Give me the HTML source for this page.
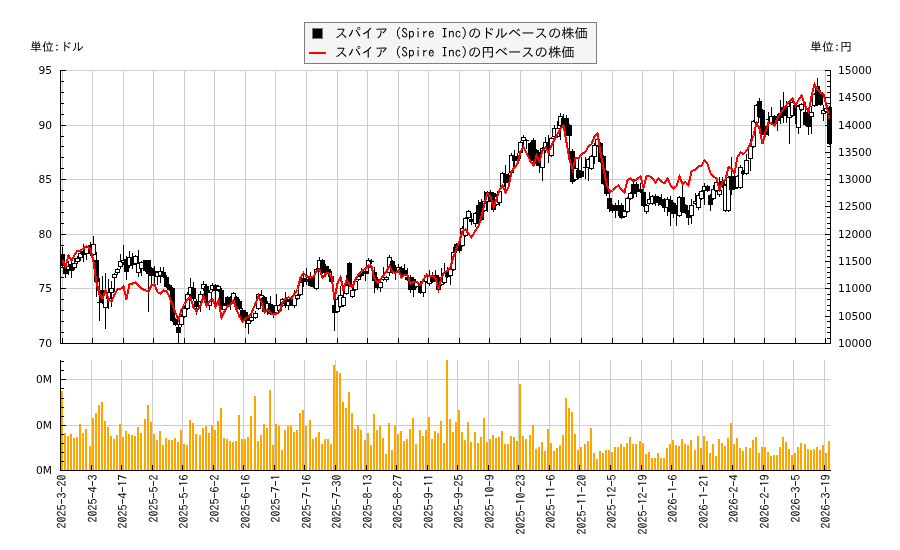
<!DOCTYPE html>
<html lang="ja"><head><meta charset="utf-8"><title>スパイア (Spire Inc) 株価チャート</title>
<style>html,body{margin:0;padding:0;background:#fff;}body{width:900px;height:550px;overflow:hidden;}svg{display:block;will-change:transform;opacity:0.999;}.jp{font-family:"IPAGothic","Liberation Sans","Noto Sans CJK JP",sans-serif;fill:#000;}.num{font-family:"DejaVu Sans","Liberation Sans",sans-serif;font-size:10.67px;fill:#000;}</style></head><body>
<svg width="900" height="550" viewBox="0 0 900 550">
<rect x="0" y="0" width="900" height="550" fill="#ffffff"/>
<g shape-rendering="crispEdges" fill="#cdcdcd">
<rect x="62" y="70" width="1" height="273"/>
<rect x="92" y="70" width="1" height="273"/>
<rect x="123" y="70" width="1" height="273"/>
<rect x="153" y="70" width="1" height="273"/>
<rect x="184" y="70" width="1" height="273"/>
<rect x="214" y="70" width="1" height="273"/>
<rect x="245" y="70" width="1" height="273"/>
<rect x="275" y="70" width="1" height="273"/>
<rect x="306" y="70" width="1" height="273"/>
<rect x="337" y="70" width="1" height="273"/>
<rect x="367" y="70" width="1" height="273"/>
<rect x="398" y="70" width="1" height="273"/>
<rect x="428" y="70" width="1" height="273"/>
<rect x="459" y="70" width="1" height="273"/>
<rect x="489" y="70" width="1" height="273"/>
<rect x="520" y="70" width="1" height="273"/>
<rect x="550" y="70" width="1" height="273"/>
<rect x="581" y="70" width="1" height="273"/>
<rect x="612" y="70" width="1" height="273"/>
<rect x="642" y="70" width="1" height="273"/>
<rect x="673" y="70" width="1" height="273"/>
<rect x="703" y="70" width="1" height="273"/>
<rect x="734" y="70" width="1" height="273"/>
<rect x="764" y="70" width="1" height="273"/>
<rect x="795" y="70" width="1" height="273"/>
<rect x="825" y="70" width="1" height="273"/>
<rect x="61" y="70" width="769" height="1"/>
<rect x="61" y="125" width="769" height="1"/>
<rect x="61" y="179" width="769" height="1"/>
<rect x="61" y="234" width="769" height="1"/>
<rect x="61" y="288" width="769" height="1"/>
</g>
<g shape-rendering="crispEdges" fill="#cdcdcd">
<rect x="91" y="360" width="1" height="110"/>
<rect x="121" y="360" width="1" height="110"/>
<rect x="152" y="360" width="1" height="110"/>
<rect x="182" y="360" width="1" height="110"/>
<rect x="213" y="360" width="1" height="110"/>
<rect x="243" y="360" width="1" height="110"/>
<rect x="274" y="360" width="1" height="110"/>
<rect x="304" y="360" width="1" height="110"/>
<rect x="335" y="360" width="1" height="110"/>
<rect x="366" y="360" width="1" height="110"/>
<rect x="396" y="360" width="1" height="110"/>
<rect x="427" y="360" width="1" height="110"/>
<rect x="457" y="360" width="1" height="110"/>
<rect x="488" y="360" width="1" height="110"/>
<rect x="518" y="360" width="1" height="110"/>
<rect x="549" y="360" width="1" height="110"/>
<rect x="579" y="360" width="1" height="110"/>
<rect x="610" y="360" width="1" height="110"/>
<rect x="641" y="360" width="1" height="110"/>
<rect x="671" y="360" width="1" height="110"/>
<rect x="702" y="360" width="1" height="110"/>
<rect x="732" y="360" width="1" height="110"/>
<rect x="763" y="360" width="1" height="110"/>
<rect x="793" y="360" width="1" height="110"/>
<rect x="824" y="360" width="1" height="110"/>
<rect x="61" y="379" width="769" height="1"/>
<rect x="61" y="425" width="769" height="1"/>
</g>
<g shape-rendering="crispEdges" fill="#ffa500">
<rect x="61" y="391" width="2" height="79"/>
<rect x="64" y="433" width="2" height="37"/>
<rect x="67" y="436" width="2" height="34"/>
<rect x="70" y="434" width="2" height="36"/>
<rect x="73" y="438" width="2" height="32"/>
<rect x="76" y="437" width="2" height="33"/>
<rect x="79" y="424" width="2" height="46"/>
<rect x="82" y="433" width="2" height="37"/>
<rect x="85" y="429" width="2" height="41"/>
<rect x="89" y="446" width="2" height="24"/>
<rect x="92" y="418" width="2" height="52"/>
<rect x="95" y="413" width="2" height="57"/>
<rect x="98" y="405" width="2" height="65"/>
<rect x="101" y="402" width="2" height="68"/>
<rect x="104" y="421" width="2" height="49"/>
<rect x="107" y="427" width="2" height="43"/>
<rect x="110" y="436" width="2" height="34"/>
<rect x="113" y="439" width="2" height="31"/>
<rect x="116" y="435" width="2" height="35"/>
<rect x="119" y="424" width="2" height="46"/>
<rect x="122" y="437" width="2" height="33"/>
<rect x="125" y="431" width="2" height="39"/>
<rect x="128" y="434" width="2" height="36"/>
<rect x="131" y="435" width="2" height="35"/>
<rect x="134" y="436" width="2" height="34"/>
<rect x="137" y="427" width="2" height="43"/>
<rect x="140" y="433" width="2" height="37"/>
<rect x="144" y="419" width="2" height="51"/>
<rect x="147" y="405" width="2" height="65"/>
<rect x="150" y="422" width="2" height="48"/>
<rect x="153" y="434" width="2" height="36"/>
<rect x="156" y="440" width="2" height="30"/>
<rect x="159" y="431" width="2" height="39"/>
<rect x="162" y="445" width="2" height="25"/>
<rect x="165" y="438" width="2" height="32"/>
<rect x="168" y="440" width="2" height="30"/>
<rect x="171" y="440" width="2" height="30"/>
<rect x="174" y="438" width="2" height="32"/>
<rect x="177" y="442" width="2" height="28"/>
<rect x="180" y="430" width="2" height="40"/>
<rect x="183" y="444" width="2" height="26"/>
<rect x="186" y="445" width="2" height="25"/>
<rect x="189" y="420" width="2" height="50"/>
<rect x="192" y="423" width="2" height="47"/>
<rect x="195" y="434" width="2" height="36"/>
<rect x="199" y="435" width="2" height="35"/>
<rect x="202" y="428" width="2" height="42"/>
<rect x="205" y="426" width="2" height="44"/>
<rect x="208" y="433" width="2" height="37"/>
<rect x="211" y="425" width="2" height="45"/>
<rect x="214" y="430" width="2" height="40"/>
<rect x="217" y="421" width="2" height="49"/>
<rect x="220" y="408" width="2" height="62"/>
<rect x="223" y="438" width="2" height="32"/>
<rect x="226" y="439" width="2" height="31"/>
<rect x="229" y="441" width="2" height="29"/>
<rect x="232" y="442" width="2" height="28"/>
<rect x="235" y="441" width="2" height="29"/>
<rect x="238" y="415" width="2" height="55"/>
<rect x="241" y="439" width="2" height="31"/>
<rect x="244" y="439" width="2" height="31"/>
<rect x="247" y="437" width="2" height="33"/>
<rect x="250" y="416" width="2" height="54"/>
<rect x="254" y="396" width="2" height="74"/>
<rect x="257" y="441" width="2" height="29"/>
<rect x="260" y="435" width="2" height="35"/>
<rect x="263" y="424" width="2" height="46"/>
<rect x="266" y="428" width="2" height="42"/>
<rect x="269" y="390" width="2" height="80"/>
<rect x="272" y="445" width="2" height="25"/>
<rect x="275" y="424" width="2" height="46"/>
<rect x="278" y="426" width="2" height="44"/>
<rect x="281" y="450" width="2" height="20"/>
<rect x="284" y="430" width="2" height="40"/>
<rect x="287" y="426" width="2" height="44"/>
<rect x="290" y="426" width="2" height="44"/>
<rect x="293" y="432" width="2" height="38"/>
<rect x="296" y="430" width="2" height="40"/>
<rect x="299" y="413" width="2" height="57"/>
<rect x="302" y="410" width="2" height="60"/>
<rect x="305" y="426" width="2" height="44"/>
<rect x="309" y="420" width="2" height="50"/>
<rect x="312" y="439" width="2" height="31"/>
<rect x="315" y="437" width="2" height="33"/>
<rect x="318" y="432" width="2" height="38"/>
<rect x="321" y="444" width="2" height="26"/>
<rect x="324" y="439" width="2" height="31"/>
<rect x="327" y="439" width="2" height="31"/>
<rect x="330" y="444" width="2" height="26"/>
<rect x="333" y="365" width="2" height="105"/>
<rect x="336" y="371" width="2" height="99"/>
<rect x="339" y="373" width="2" height="97"/>
<rect x="342" y="402" width="2" height="68"/>
<rect x="345" y="408" width="2" height="62"/>
<rect x="348" y="392" width="2" height="78"/>
<rect x="351" y="413" width="2" height="57"/>
<rect x="354" y="429" width="2" height="41"/>
<rect x="357" y="425" width="2" height="45"/>
<rect x="360" y="430" width="2" height="40"/>
<rect x="364" y="440" width="2" height="30"/>
<rect x="367" y="433" width="2" height="37"/>
<rect x="370" y="445" width="2" height="25"/>
<rect x="373" y="414" width="2" height="56"/>
<rect x="376" y="430" width="2" height="40"/>
<rect x="379" y="426" width="2" height="44"/>
<rect x="382" y="438" width="2" height="32"/>
<rect x="385" y="454" width="2" height="16"/>
<rect x="388" y="423" width="2" height="47"/>
<rect x="391" y="450" width="2" height="20"/>
<rect x="394" y="426" width="2" height="44"/>
<rect x="397" y="434" width="2" height="36"/>
<rect x="400" y="431" width="2" height="39"/>
<rect x="403" y="441" width="2" height="29"/>
<rect x="406" y="439" width="2" height="31"/>
<rect x="409" y="429" width="2" height="41"/>
<rect x="412" y="418" width="2" height="52"/>
<rect x="415" y="444" width="2" height="26"/>
<rect x="419" y="430" width="2" height="40"/>
<rect x="422" y="436" width="2" height="34"/>
<rect x="425" y="430" width="2" height="40"/>
<rect x="428" y="417" width="2" height="53"/>
<rect x="431" y="439" width="2" height="31"/>
<rect x="434" y="431" width="2" height="39"/>
<rect x="437" y="433" width="2" height="37"/>
<rect x="440" y="421" width="2" height="49"/>
<rect x="443" y="443" width="2" height="27"/>
<rect x="446" y="360" width="2" height="110"/>
<rect x="449" y="419" width="2" height="51"/>
<rect x="452" y="432" width="2" height="38"/>
<rect x="455" y="422" width="2" height="48"/>
<rect x="458" y="410" width="2" height="60"/>
<rect x="461" y="432" width="2" height="38"/>
<rect x="464" y="440" width="2" height="30"/>
<rect x="467" y="422" width="2" height="48"/>
<rect x="470" y="442" width="2" height="28"/>
<rect x="474" y="432" width="2" height="38"/>
<rect x="477" y="443" width="2" height="27"/>
<rect x="480" y="437" width="2" height="33"/>
<rect x="483" y="418" width="2" height="52"/>
<rect x="486" y="442" width="2" height="28"/>
<rect x="489" y="439" width="2" height="31"/>
<rect x="492" y="435" width="2" height="35"/>
<rect x="495" y="438" width="2" height="32"/>
<rect x="498" y="437" width="2" height="33"/>
<rect x="501" y="431" width="2" height="39"/>
<rect x="504" y="444" width="2" height="26"/>
<rect x="507" y="444" width="2" height="26"/>
<rect x="510" y="436" width="2" height="34"/>
<rect x="513" y="437" width="2" height="33"/>
<rect x="516" y="441" width="2" height="29"/>
<rect x="519" y="384" width="2" height="86"/>
<rect x="522" y="436" width="2" height="34"/>
<rect x="525" y="439" width="2" height="31"/>
<rect x="529" y="435" width="2" height="35"/>
<rect x="532" y="425" width="2" height="45"/>
<rect x="535" y="449" width="2" height="21"/>
<rect x="538" y="447" width="2" height="23"/>
<rect x="541" y="442" width="2" height="28"/>
<rect x="544" y="451" width="2" height="19"/>
<rect x="547" y="429" width="2" height="41"/>
<rect x="550" y="443" width="2" height="27"/>
<rect x="553" y="451" width="2" height="19"/>
<rect x="556" y="448" width="2" height="22"/>
<rect x="559" y="445" width="2" height="25"/>
<rect x="562" y="435" width="2" height="35"/>
<rect x="565" y="398" width="2" height="72"/>
<rect x="568" y="408" width="2" height="62"/>
<rect x="571" y="412" width="2" height="58"/>
<rect x="574" y="434" width="2" height="36"/>
<rect x="577" y="450" width="2" height="20"/>
<rect x="580" y="447" width="2" height="23"/>
<rect x="584" y="444" width="2" height="26"/>
<rect x="587" y="441" width="2" height="29"/>
<rect x="590" y="428" width="2" height="42"/>
<rect x="593" y="453" width="2" height="17"/>
<rect x="596" y="459" width="2" height="11"/>
<rect x="599" y="451" width="2" height="19"/>
<rect x="602" y="453" width="2" height="17"/>
<rect x="605" y="450" width="2" height="20"/>
<rect x="608" y="450" width="2" height="20"/>
<rect x="611" y="452" width="2" height="18"/>
<rect x="614" y="447" width="2" height="23"/>
<rect x="617" y="447" width="2" height="23"/>
<rect x="620" y="444" width="2" height="26"/>
<rect x="623" y="447" width="2" height="23"/>
<rect x="626" y="443" width="2" height="27"/>
<rect x="629" y="437" width="2" height="33"/>
<rect x="632" y="444" width="2" height="26"/>
<rect x="635" y="444" width="2" height="26"/>
<rect x="639" y="441" width="2" height="29"/>
<rect x="642" y="443" width="2" height="27"/>
<rect x="645" y="454" width="2" height="16"/>
<rect x="648" y="452" width="2" height="18"/>
<rect x="651" y="458" width="2" height="12"/>
<rect x="654" y="458" width="2" height="12"/>
<rect x="657" y="453" width="2" height="17"/>
<rect x="660" y="458" width="2" height="12"/>
<rect x="663" y="458" width="2" height="12"/>
<rect x="666" y="448" width="2" height="22"/>
<rect x="669" y="444" width="2" height="26"/>
<rect x="672" y="440" width="2" height="30"/>
<rect x="675" y="445" width="2" height="25"/>
<rect x="678" y="446" width="2" height="24"/>
<rect x="681" y="439" width="2" height="31"/>
<rect x="684" y="444" width="2" height="26"/>
<rect x="687" y="445" width="2" height="25"/>
<rect x="690" y="440" width="2" height="30"/>
<rect x="694" y="450" width="2" height="20"/>
<rect x="697" y="436" width="2" height="34"/>
<rect x="700" y="448" width="2" height="22"/>
<rect x="703" y="436" width="2" height="34"/>
<rect x="706" y="441" width="2" height="29"/>
<rect x="709" y="453" width="2" height="17"/>
<rect x="712" y="444" width="2" height="26"/>
<rect x="715" y="456" width="2" height="14"/>
<rect x="718" y="439" width="2" height="31"/>
<rect x="721" y="443" width="2" height="27"/>
<rect x="724" y="446" width="2" height="24"/>
<rect x="727" y="438" width="2" height="32"/>
<rect x="730" y="423" width="2" height="47"/>
<rect x="733" y="444" width="2" height="26"/>
<rect x="736" y="438" width="2" height="32"/>
<rect x="739" y="448" width="2" height="22"/>
<rect x="742" y="451" width="2" height="19"/>
<rect x="745" y="447" width="2" height="23"/>
<rect x="749" y="448" width="2" height="22"/>
<rect x="752" y="440" width="2" height="30"/>
<rect x="755" y="437" width="2" height="33"/>
<rect x="758" y="453" width="2" height="17"/>
<rect x="761" y="447" width="2" height="23"/>
<rect x="764" y="447" width="2" height="23"/>
<rect x="767" y="452" width="2" height="18"/>
<rect x="770" y="456" width="2" height="14"/>
<rect x="773" y="455" width="2" height="15"/>
<rect x="776" y="455" width="2" height="15"/>
<rect x="779" y="447" width="2" height="23"/>
<rect x="782" y="437" width="2" height="33"/>
<rect x="785" y="442" width="2" height="28"/>
<rect x="788" y="449" width="2" height="21"/>
<rect x="791" y="455" width="2" height="15"/>
<rect x="794" y="453" width="2" height="17"/>
<rect x="797" y="447" width="2" height="23"/>
<rect x="800" y="443" width="2" height="27"/>
<rect x="804" y="444" width="2" height="26"/>
<rect x="807" y="449" width="2" height="21"/>
<rect x="810" y="450" width="2" height="20"/>
<rect x="813" y="449" width="2" height="21"/>
<rect x="816" y="447" width="2" height="23"/>
<rect x="819" y="450" width="2" height="20"/>
<rect x="822" y="445" width="2" height="25"/>
<rect x="825" y="453" width="2" height="17"/>
<rect x="828" y="441" width="2" height="29"/>
</g>
<g shape-rendering="crispEdges">
<rect x="60" y="254" width="5" height="12" fill="#000"/>
<rect x="62" y="247" width="1" height="7" fill="#000"/>
<rect x="62" y="266" width="1" height="1" fill="#000"/>
<rect x="63" y="267" width="5" height="7" fill="#000"/>
<rect x="65" y="263" width="1" height="4" fill="#000"/>
<rect x="65" y="274" width="1" height="4" fill="#000"/>
<rect x="66" y="266" width="5" height="4" fill="#000"/>
<rect x="67" y="267" width="3" height="2" fill="#fff"/>
<rect x="68" y="261" width="1" height="5" fill="#000"/>
<rect x="68" y="270" width="1" height="5" fill="#000"/>
<rect x="69" y="264" width="5" height="7" fill="#000"/>
<rect x="71" y="262" width="1" height="2" fill="#000"/>
<rect x="71" y="271" width="1" height="7" fill="#000"/>
<rect x="72" y="263" width="5" height="5" fill="#000"/>
<rect x="73" y="264" width="3" height="3" fill="#fff"/>
<rect x="74" y="258" width="1" height="5" fill="#000"/>
<rect x="74" y="268" width="1" height="2" fill="#000"/>
<rect x="75" y="258" width="5" height="4" fill="#000"/>
<rect x="76" y="259" width="3" height="2" fill="#fff"/>
<rect x="77" y="256" width="1" height="2" fill="#000"/>
<rect x="77" y="262" width="1" height="2" fill="#000"/>
<rect x="78" y="253" width="5" height="5" fill="#000"/>
<rect x="79" y="254" width="3" height="3" fill="#fff"/>
<rect x="80" y="250" width="1" height="3" fill="#000"/>
<rect x="80" y="258" width="1" height="3" fill="#000"/>
<rect x="81" y="251" width="5" height="4" fill="#000"/>
<rect x="83" y="244" width="1" height="7" fill="#000"/>
<rect x="83" y="255" width="1" height="7" fill="#000"/>
<rect x="84" y="247" width="5" height="7" fill="#000"/>
<rect x="85" y="248" width="3" height="5" fill="#fff"/>
<rect x="86" y="245" width="1" height="2" fill="#000"/>
<rect x="86" y="254" width="1" height="6" fill="#000"/>
<rect x="88" y="245" width="5" height="9" fill="#000"/>
<rect x="90" y="242" width="1" height="3" fill="#000"/>
<rect x="90" y="254" width="1" height="2" fill="#000"/>
<rect x="91" y="244" width="5" height="11" fill="#000"/>
<rect x="92" y="245" width="3" height="9" fill="#fff"/>
<rect x="93" y="236" width="1" height="8" fill="#000"/>
<rect x="93" y="255" width="1" height="1" fill="#000"/>
<rect x="94" y="260" width="5" height="22" fill="#000"/>
<rect x="96" y="252" width="1" height="8" fill="#000"/>
<rect x="96" y="282" width="1" height="15" fill="#000"/>
<rect x="97" y="302" width="5" height="1" fill="#000"/>
<rect x="99" y="278" width="1" height="24" fill="#000"/>
<rect x="99" y="303" width="1" height="18" fill="#000"/>
<rect x="100" y="290" width="5" height="13" fill="#000"/>
<rect x="102" y="276" width="1" height="14" fill="#000"/>
<rect x="102" y="303" width="1" height="1" fill="#000"/>
<rect x="103" y="293" width="5" height="15" fill="#000"/>
<rect x="104" y="294" width="3" height="13" fill="#fff"/>
<rect x="105" y="273" width="1" height="20" fill="#000"/>
<rect x="105" y="308" width="1" height="21" fill="#000"/>
<rect x="106" y="292" width="5" height="7" fill="#000"/>
<rect x="107" y="293" width="3" height="5" fill="#fff"/>
<rect x="108" y="279" width="1" height="13" fill="#000"/>
<rect x="108" y="299" width="1" height="10" fill="#000"/>
<rect x="109" y="288" width="5" height="5" fill="#000"/>
<rect x="110" y="289" width="3" height="3" fill="#fff"/>
<rect x="111" y="281" width="1" height="7" fill="#000"/>
<rect x="111" y="293" width="1" height="14" fill="#000"/>
<rect x="112" y="274" width="5" height="4" fill="#000"/>
<rect x="113" y="275" width="3" height="2" fill="#fff"/>
<rect x="114" y="273" width="1" height="1" fill="#000"/>
<rect x="114" y="278" width="1" height="14" fill="#000"/>
<rect x="115" y="269" width="5" height="4" fill="#000"/>
<rect x="116" y="270" width="3" height="2" fill="#fff"/>
<rect x="117" y="268" width="1" height="1" fill="#000"/>
<rect x="117" y="273" width="1" height="2" fill="#000"/>
<rect x="118" y="261" width="5" height="6" fill="#000"/>
<rect x="119" y="262" width="3" height="4" fill="#fff"/>
<rect x="120" y="254" width="1" height="7" fill="#000"/>
<rect x="120" y="267" width="1" height="2" fill="#000"/>
<rect x="121" y="260" width="5" height="3" fill="#000"/>
<rect x="122" y="261" width="3" height="1" fill="#fff"/>
<rect x="123" y="245" width="1" height="15" fill="#000"/>
<rect x="123" y="263" width="1" height="2" fill="#000"/>
<rect x="124" y="259" width="5" height="13" fill="#000"/>
<rect x="126" y="256" width="1" height="3" fill="#000"/>
<rect x="126" y="272" width="1" height="8" fill="#000"/>
<rect x="127" y="257" width="5" height="9" fill="#000"/>
<rect x="128" y="258" width="3" height="7" fill="#fff"/>
<rect x="129" y="251" width="1" height="6" fill="#000"/>
<rect x="129" y="266" width="1" height="2" fill="#000"/>
<rect x="130" y="258" width="5" height="7" fill="#000"/>
<rect x="132" y="253" width="1" height="5" fill="#000"/>
<rect x="132" y="265" width="1" height="4" fill="#000"/>
<rect x="133" y="256" width="5" height="8" fill="#000"/>
<rect x="134" y="257" width="3" height="6" fill="#fff"/>
<rect x="135" y="255" width="1" height="1" fill="#000"/>
<rect x="135" y="264" width="1" height="1" fill="#000"/>
<rect x="136" y="263" width="5" height="10" fill="#000"/>
<rect x="137" y="264" width="3" height="8" fill="#fff"/>
<rect x="138" y="250" width="1" height="13" fill="#000"/>
<rect x="138" y="273" width="1" height="4" fill="#000"/>
<rect x="139" y="262" width="5" height="7" fill="#000"/>
<rect x="140" y="263" width="3" height="5" fill="#fff"/>
<rect x="141" y="261" width="1" height="1" fill="#000"/>
<rect x="141" y="269" width="1" height="7" fill="#000"/>
<rect x="143" y="260" width="5" height="11" fill="#000"/>
<rect x="145" y="271" width="1" height="1" fill="#000"/>
<rect x="146" y="260" width="5" height="14" fill="#000"/>
<rect x="148" y="274" width="1" height="38" fill="#000"/>
<rect x="149" y="268" width="5" height="8" fill="#000"/>
<rect x="151" y="267" width="1" height="1" fill="#000"/>
<rect x="151" y="276" width="1" height="8" fill="#000"/>
<rect x="152" y="271" width="5" height="4" fill="#000"/>
<rect x="154" y="266" width="1" height="5" fill="#000"/>
<rect x="154" y="275" width="1" height="9" fill="#000"/>
<rect x="155" y="272" width="5" height="5" fill="#000"/>
<rect x="156" y="273" width="3" height="3" fill="#fff"/>
<rect x="157" y="271" width="1" height="1" fill="#000"/>
<rect x="157" y="277" width="1" height="8" fill="#000"/>
<rect x="158" y="271" width="5" height="5" fill="#000"/>
<rect x="159" y="272" width="3" height="3" fill="#fff"/>
<rect x="160" y="267" width="1" height="4" fill="#000"/>
<rect x="160" y="276" width="1" height="7" fill="#000"/>
<rect x="161" y="272" width="5" height="5" fill="#000"/>
<rect x="163" y="267" width="1" height="5" fill="#000"/>
<rect x="163" y="277" width="1" height="1" fill="#000"/>
<rect x="164" y="277" width="5" height="10" fill="#000"/>
<rect x="166" y="275" width="1" height="2" fill="#000"/>
<rect x="166" y="287" width="1" height="1" fill="#000"/>
<rect x="167" y="285" width="5" height="5" fill="#000"/>
<rect x="169" y="284" width="1" height="1" fill="#000"/>
<rect x="169" y="290" width="1" height="1" fill="#000"/>
<rect x="170" y="288" width="5" height="33" fill="#000"/>
<rect x="172" y="287" width="1" height="1" fill="#000"/>
<rect x="172" y="321" width="1" height="1" fill="#000"/>
<rect x="173" y="319" width="5" height="6" fill="#000"/>
<rect x="175" y="318" width="1" height="1" fill="#000"/>
<rect x="175" y="325" width="1" height="1" fill="#000"/>
<rect x="176" y="327" width="5" height="6" fill="#000"/>
<rect x="178" y="324" width="1" height="3" fill="#000"/>
<rect x="178" y="333" width="1" height="11" fill="#000"/>
<rect x="179" y="316" width="5" height="9" fill="#000"/>
<rect x="180" y="317" width="3" height="7" fill="#fff"/>
<rect x="181" y="314" width="1" height="2" fill="#000"/>
<rect x="181" y="325" width="1" height="2" fill="#000"/>
<rect x="182" y="308" width="5" height="9" fill="#000"/>
<rect x="183" y="309" width="3" height="7" fill="#fff"/>
<rect x="184" y="306" width="1" height="2" fill="#000"/>
<rect x="184" y="317" width="1" height="1" fill="#000"/>
<rect x="185" y="294" width="5" height="15" fill="#000"/>
<rect x="186" y="295" width="3" height="13" fill="#fff"/>
<rect x="187" y="292" width="1" height="2" fill="#000"/>
<rect x="187" y="309" width="1" height="1" fill="#000"/>
<rect x="188" y="287" width="5" height="8" fill="#000"/>
<rect x="189" y="288" width="3" height="6" fill="#fff"/>
<rect x="190" y="278" width="1" height="9" fill="#000"/>
<rect x="190" y="295" width="1" height="2" fill="#000"/>
<rect x="191" y="288" width="5" height="11" fill="#000"/>
<rect x="193" y="282" width="1" height="6" fill="#000"/>
<rect x="193" y="299" width="1" height="2" fill="#000"/>
<rect x="194" y="301" width="5" height="6" fill="#000"/>
<rect x="196" y="299" width="1" height="2" fill="#000"/>
<rect x="196" y="307" width="1" height="8" fill="#000"/>
<rect x="198" y="294" width="5" height="8" fill="#000"/>
<rect x="199" y="295" width="3" height="6" fill="#fff"/>
<rect x="200" y="291" width="1" height="3" fill="#000"/>
<rect x="200" y="302" width="1" height="10" fill="#000"/>
<rect x="201" y="284" width="5" height="5" fill="#000"/>
<rect x="202" y="285" width="3" height="3" fill="#fff"/>
<rect x="203" y="281" width="1" height="3" fill="#000"/>
<rect x="203" y="289" width="1" height="2" fill="#000"/>
<rect x="204" y="286" width="5" height="15" fill="#000"/>
<rect x="206" y="284" width="1" height="2" fill="#000"/>
<rect x="206" y="301" width="1" height="2" fill="#000"/>
<rect x="207" y="292" width="5" height="14" fill="#000"/>
<rect x="208" y="293" width="3" height="12" fill="#fff"/>
<rect x="209" y="290" width="1" height="2" fill="#000"/>
<rect x="209" y="306" width="1" height="4" fill="#000"/>
<rect x="210" y="285" width="5" height="5" fill="#000"/>
<rect x="211" y="286" width="3" height="3" fill="#fff"/>
<rect x="212" y="283" width="1" height="2" fill="#000"/>
<rect x="212" y="290" width="1" height="2" fill="#000"/>
<rect x="213" y="285" width="5" height="6" fill="#000"/>
<rect x="215" y="284" width="1" height="1" fill="#000"/>
<rect x="215" y="291" width="1" height="15" fill="#000"/>
<rect x="216" y="286" width="5" height="4" fill="#000"/>
<rect x="217" y="287" width="3" height="2" fill="#fff"/>
<rect x="218" y="285" width="1" height="1" fill="#000"/>
<rect x="218" y="290" width="1" height="2" fill="#000"/>
<rect x="219" y="290" width="5" height="19" fill="#000"/>
<rect x="221" y="288" width="1" height="2" fill="#000"/>
<rect x="221" y="309" width="1" height="1" fill="#000"/>
<rect x="222" y="305" width="5" height="5" fill="#000"/>
<rect x="223" y="306" width="3" height="3" fill="#fff"/>
<rect x="224" y="303" width="1" height="2" fill="#000"/>
<rect x="224" y="310" width="1" height="1" fill="#000"/>
<rect x="225" y="297" width="5" height="9" fill="#000"/>
<rect x="227" y="296" width="1" height="1" fill="#000"/>
<rect x="227" y="306" width="1" height="1" fill="#000"/>
<rect x="228" y="298" width="5" height="6" fill="#000"/>
<rect x="230" y="296" width="1" height="2" fill="#000"/>
<rect x="230" y="304" width="1" height="6" fill="#000"/>
<rect x="231" y="293" width="5" height="8" fill="#000"/>
<rect x="232" y="294" width="3" height="6" fill="#fff"/>
<rect x="233" y="292" width="1" height="1" fill="#000"/>
<rect x="233" y="301" width="1" height="1" fill="#000"/>
<rect x="234" y="297" width="5" height="10" fill="#000"/>
<rect x="236" y="296" width="1" height="1" fill="#000"/>
<rect x="236" y="307" width="1" height="3" fill="#000"/>
<rect x="237" y="301" width="5" height="8" fill="#000"/>
<rect x="239" y="299" width="1" height="2" fill="#000"/>
<rect x="239" y="309" width="1" height="1" fill="#000"/>
<rect x="240" y="310" width="5" height="9" fill="#000"/>
<rect x="242" y="308" width="1" height="2" fill="#000"/>
<rect x="242" y="319" width="1" height="1" fill="#000"/>
<rect x="243" y="312" width="5" height="8" fill="#000"/>
<rect x="245" y="310" width="1" height="2" fill="#000"/>
<rect x="245" y="320" width="1" height="8" fill="#000"/>
<rect x="246" y="320" width="5" height="4" fill="#000"/>
<rect x="247" y="321" width="3" height="2" fill="#fff"/>
<rect x="248" y="318" width="1" height="2" fill="#000"/>
<rect x="248" y="324" width="1" height="10" fill="#000"/>
<rect x="249" y="317" width="5" height="4" fill="#000"/>
<rect x="250" y="318" width="3" height="2" fill="#fff"/>
<rect x="251" y="314" width="1" height="3" fill="#000"/>
<rect x="251" y="321" width="1" height="1" fill="#000"/>
<rect x="253" y="313" width="5" height="5" fill="#000"/>
<rect x="254" y="314" width="3" height="3" fill="#fff"/>
<rect x="255" y="311" width="1" height="2" fill="#000"/>
<rect x="255" y="318" width="1" height="1" fill="#000"/>
<rect x="256" y="294" width="5" height="15" fill="#000"/>
<rect x="257" y="295" width="3" height="13" fill="#fff"/>
<rect x="258" y="293" width="1" height="1" fill="#000"/>
<rect x="258" y="309" width="1" height="1" fill="#000"/>
<rect x="259" y="295" width="5" height="4" fill="#000"/>
<rect x="260" y="296" width="3" height="2" fill="#fff"/>
<rect x="261" y="290" width="1" height="5" fill="#000"/>
<rect x="261" y="299" width="1" height="1" fill="#000"/>
<rect x="262" y="297" width="5" height="15" fill="#000"/>
<rect x="264" y="296" width="1" height="1" fill="#000"/>
<rect x="264" y="312" width="1" height="1" fill="#000"/>
<rect x="265" y="303" width="5" height="7" fill="#000"/>
<rect x="266" y="304" width="3" height="5" fill="#fff"/>
<rect x="267" y="301" width="1" height="2" fill="#000"/>
<rect x="267" y="310" width="1" height="5" fill="#000"/>
<rect x="268" y="304" width="5" height="10" fill="#000"/>
<rect x="270" y="296" width="1" height="8" fill="#000"/>
<rect x="270" y="314" width="1" height="1" fill="#000"/>
<rect x="271" y="306" width="5" height="8" fill="#000"/>
<rect x="273" y="305" width="1" height="1" fill="#000"/>
<rect x="273" y="314" width="1" height="4" fill="#000"/>
<rect x="274" y="305" width="5" height="8" fill="#000"/>
<rect x="275" y="306" width="3" height="6" fill="#fff"/>
<rect x="276" y="294" width="1" height="11" fill="#000"/>
<rect x="276" y="313" width="1" height="1" fill="#000"/>
<rect x="277" y="305" width="5" height="6" fill="#000"/>
<rect x="278" y="306" width="3" height="4" fill="#fff"/>
<rect x="279" y="304" width="1" height="1" fill="#000"/>
<rect x="279" y="311" width="1" height="1" fill="#000"/>
<rect x="280" y="299" width="5" height="7" fill="#000"/>
<rect x="281" y="300" width="3" height="5" fill="#fff"/>
<rect x="282" y="298" width="1" height="1" fill="#000"/>
<rect x="282" y="306" width="1" height="1" fill="#000"/>
<rect x="283" y="299" width="5" height="5" fill="#000"/>
<rect x="285" y="292" width="1" height="7" fill="#000"/>
<rect x="285" y="304" width="1" height="4" fill="#000"/>
<rect x="286" y="301" width="5" height="5" fill="#000"/>
<rect x="287" y="302" width="3" height="3" fill="#fff"/>
<rect x="288" y="299" width="1" height="2" fill="#000"/>
<rect x="288" y="306" width="1" height="4" fill="#000"/>
<rect x="289" y="297" width="5" height="8" fill="#000"/>
<rect x="291" y="296" width="1" height="1" fill="#000"/>
<rect x="291" y="305" width="1" height="1" fill="#000"/>
<rect x="292" y="295" width="5" height="11" fill="#000"/>
<rect x="293" y="296" width="3" height="9" fill="#fff"/>
<rect x="294" y="290" width="1" height="5" fill="#000"/>
<rect x="294" y="306" width="1" height="2" fill="#000"/>
<rect x="295" y="295" width="5" height="4" fill="#000"/>
<rect x="296" y="296" width="3" height="2" fill="#fff"/>
<rect x="297" y="294" width="1" height="1" fill="#000"/>
<rect x="297" y="299" width="1" height="1" fill="#000"/>
<rect x="298" y="282" width="5" height="13" fill="#000"/>
<rect x="299" y="283" width="3" height="11" fill="#fff"/>
<rect x="300" y="280" width="1" height="2" fill="#000"/>
<rect x="300" y="295" width="1" height="1" fill="#000"/>
<rect x="301" y="278" width="5" height="4" fill="#000"/>
<rect x="303" y="272" width="1" height="6" fill="#000"/>
<rect x="303" y="282" width="1" height="5" fill="#000"/>
<rect x="304" y="279" width="5" height="3" fill="#000"/>
<rect x="306" y="268" width="1" height="11" fill="#000"/>
<rect x="306" y="282" width="1" height="3" fill="#000"/>
<rect x="308" y="278" width="5" height="8" fill="#000"/>
<rect x="310" y="272" width="1" height="6" fill="#000"/>
<rect x="310" y="286" width="1" height="1" fill="#000"/>
<rect x="311" y="279" width="5" height="8" fill="#000"/>
<rect x="313" y="278" width="1" height="1" fill="#000"/>
<rect x="313" y="287" width="1" height="1" fill="#000"/>
<rect x="314" y="269" width="5" height="20" fill="#000"/>
<rect x="315" y="270" width="3" height="18" fill="#fff"/>
<rect x="316" y="268" width="1" height="1" fill="#000"/>
<rect x="316" y="289" width="1" height="1" fill="#000"/>
<rect x="317" y="260" width="5" height="9" fill="#000"/>
<rect x="318" y="261" width="3" height="7" fill="#fff"/>
<rect x="319" y="257" width="1" height="3" fill="#000"/>
<rect x="319" y="269" width="1" height="1" fill="#000"/>
<rect x="320" y="260" width="5" height="13" fill="#000"/>
<rect x="322" y="259" width="1" height="1" fill="#000"/>
<rect x="322" y="273" width="1" height="1" fill="#000"/>
<rect x="323" y="266" width="5" height="7" fill="#000"/>
<rect x="325" y="264" width="1" height="2" fill="#000"/>
<rect x="325" y="273" width="1" height="4" fill="#000"/>
<rect x="326" y="269" width="5" height="4" fill="#000"/>
<rect x="328" y="266" width="1" height="3" fill="#000"/>
<rect x="328" y="273" width="1" height="4" fill="#000"/>
<rect x="329" y="276" width="5" height="6" fill="#000"/>
<rect x="331" y="271" width="1" height="5" fill="#000"/>
<rect x="331" y="282" width="1" height="1" fill="#000"/>
<rect x="332" y="305" width="5" height="8" fill="#000"/>
<rect x="334" y="300" width="1" height="5" fill="#000"/>
<rect x="334" y="313" width="1" height="18" fill="#000"/>
<rect x="335" y="299" width="5" height="13" fill="#000"/>
<rect x="336" y="300" width="3" height="11" fill="#fff"/>
<rect x="337" y="297" width="1" height="2" fill="#000"/>
<rect x="337" y="312" width="1" height="1" fill="#000"/>
<rect x="338" y="295" width="5" height="12" fill="#000"/>
<rect x="339" y="296" width="3" height="10" fill="#fff"/>
<rect x="340" y="286" width="1" height="9" fill="#000"/>
<rect x="340" y="307" width="1" height="1" fill="#000"/>
<rect x="341" y="297" width="5" height="9" fill="#000"/>
<rect x="342" y="298" width="3" height="7" fill="#fff"/>
<rect x="343" y="285" width="1" height="12" fill="#000"/>
<rect x="343" y="306" width="1" height="1" fill="#000"/>
<rect x="344" y="285" width="5" height="9" fill="#000"/>
<rect x="345" y="286" width="3" height="7" fill="#fff"/>
<rect x="346" y="275" width="1" height="10" fill="#000"/>
<rect x="346" y="294" width="1" height="1" fill="#000"/>
<rect x="347" y="263" width="5" height="23" fill="#000"/>
<rect x="349" y="262" width="1" height="1" fill="#000"/>
<rect x="349" y="286" width="1" height="1" fill="#000"/>
<rect x="350" y="290" width="5" height="7" fill="#000"/>
<rect x="351" y="291" width="3" height="5" fill="#fff"/>
<rect x="352" y="288" width="1" height="2" fill="#000"/>
<rect x="352" y="297" width="1" height="1" fill="#000"/>
<rect x="353" y="281" width="5" height="9" fill="#000"/>
<rect x="354" y="282" width="3" height="7" fill="#fff"/>
<rect x="355" y="280" width="1" height="1" fill="#000"/>
<rect x="355" y="290" width="1" height="1" fill="#000"/>
<rect x="356" y="276" width="5" height="4" fill="#000"/>
<rect x="357" y="277" width="3" height="2" fill="#fff"/>
<rect x="358" y="274" width="1" height="2" fill="#000"/>
<rect x="358" y="280" width="1" height="1" fill="#000"/>
<rect x="359" y="272" width="5" height="4" fill="#000"/>
<rect x="361" y="268" width="1" height="4" fill="#000"/>
<rect x="361" y="276" width="1" height="1" fill="#000"/>
<rect x="363" y="271" width="5" height="3" fill="#000"/>
<rect x="365" y="267" width="1" height="4" fill="#000"/>
<rect x="365" y="274" width="1" height="7" fill="#000"/>
<rect x="366" y="260" width="5" height="8" fill="#000"/>
<rect x="367" y="261" width="3" height="6" fill="#fff"/>
<rect x="368" y="258" width="1" height="2" fill="#000"/>
<rect x="368" y="268" width="1" height="6" fill="#000"/>
<rect x="369" y="261" width="5" height="1" fill="#000"/>
<rect x="371" y="259" width="1" height="2" fill="#000"/>
<rect x="371" y="262" width="1" height="2" fill="#000"/>
<rect x="372" y="272" width="5" height="9" fill="#000"/>
<rect x="374" y="267" width="1" height="5" fill="#000"/>
<rect x="374" y="281" width="1" height="12" fill="#000"/>
<rect x="375" y="279" width="5" height="9" fill="#000"/>
<rect x="377" y="277" width="1" height="2" fill="#000"/>
<rect x="377" y="288" width="1" height="2" fill="#000"/>
<rect x="378" y="282" width="5" height="6" fill="#000"/>
<rect x="379" y="283" width="3" height="4" fill="#fff"/>
<rect x="380" y="281" width="1" height="1" fill="#000"/>
<rect x="380" y="288" width="1" height="4" fill="#000"/>
<rect x="381" y="277" width="5" height="3" fill="#000"/>
<rect x="382" y="278" width="3" height="1" fill="#fff"/>
<rect x="383" y="267" width="1" height="10" fill="#000"/>
<rect x="383" y="280" width="1" height="1" fill="#000"/>
<rect x="384" y="277" width="5" height="3" fill="#000"/>
<rect x="385" y="278" width="3" height="1" fill="#fff"/>
<rect x="386" y="276" width="1" height="1" fill="#000"/>
<rect x="386" y="280" width="1" height="2" fill="#000"/>
<rect x="387" y="257" width="5" height="16" fill="#000"/>
<rect x="388" y="258" width="3" height="14" fill="#fff"/>
<rect x="389" y="255" width="1" height="2" fill="#000"/>
<rect x="389" y="273" width="1" height="3" fill="#000"/>
<rect x="390" y="261" width="5" height="12" fill="#000"/>
<rect x="392" y="260" width="1" height="1" fill="#000"/>
<rect x="392" y="273" width="1" height="1" fill="#000"/>
<rect x="393" y="268" width="5" height="5" fill="#000"/>
<rect x="395" y="265" width="1" height="3" fill="#000"/>
<rect x="395" y="273" width="1" height="7" fill="#000"/>
<rect x="396" y="267" width="5" height="4" fill="#000"/>
<rect x="397" y="268" width="3" height="2" fill="#fff"/>
<rect x="398" y="264" width="1" height="3" fill="#000"/>
<rect x="398" y="271" width="1" height="1" fill="#000"/>
<rect x="399" y="268" width="5" height="7" fill="#000"/>
<rect x="401" y="266" width="1" height="2" fill="#000"/>
<rect x="401" y="275" width="1" height="1" fill="#000"/>
<rect x="402" y="270" width="5" height="4" fill="#000"/>
<rect x="404" y="264" width="1" height="6" fill="#000"/>
<rect x="404" y="274" width="1" height="1" fill="#000"/>
<rect x="405" y="277" width="5" height="3" fill="#000"/>
<rect x="407" y="268" width="1" height="9" fill="#000"/>
<rect x="407" y="280" width="1" height="1" fill="#000"/>
<rect x="408" y="277" width="5" height="13" fill="#000"/>
<rect x="410" y="275" width="1" height="2" fill="#000"/>
<rect x="410" y="290" width="1" height="3" fill="#000"/>
<rect x="411" y="279" width="5" height="11" fill="#000"/>
<rect x="413" y="277" width="1" height="2" fill="#000"/>
<rect x="413" y="290" width="1" height="7" fill="#000"/>
<rect x="414" y="282" width="5" height="5" fill="#000"/>
<rect x="415" y="283" width="3" height="3" fill="#fff"/>
<rect x="416" y="281" width="1" height="1" fill="#000"/>
<rect x="416" y="287" width="1" height="1" fill="#000"/>
<rect x="418" y="283" width="5" height="10" fill="#000"/>
<rect x="420" y="281" width="1" height="2" fill="#000"/>
<rect x="420" y="293" width="1" height="1" fill="#000"/>
<rect x="421" y="281" width="5" height="12" fill="#000"/>
<rect x="422" y="282" width="3" height="10" fill="#fff"/>
<rect x="423" y="279" width="1" height="2" fill="#000"/>
<rect x="423" y="293" width="1" height="4" fill="#000"/>
<rect x="424" y="275" width="5" height="7" fill="#000"/>
<rect x="425" y="276" width="3" height="5" fill="#fff"/>
<rect x="426" y="273" width="1" height="2" fill="#000"/>
<rect x="426" y="282" width="1" height="1" fill="#000"/>
<rect x="427" y="276" width="5" height="8" fill="#000"/>
<rect x="428" y="277" width="3" height="6" fill="#fff"/>
<rect x="429" y="270" width="1" height="6" fill="#000"/>
<rect x="429" y="284" width="1" height="2" fill="#000"/>
<rect x="430" y="276" width="5" height="6" fill="#000"/>
<rect x="432" y="272" width="1" height="4" fill="#000"/>
<rect x="432" y="282" width="1" height="1" fill="#000"/>
<rect x="433" y="275" width="5" height="2" fill="#000"/>
<rect x="435" y="270" width="1" height="5" fill="#000"/>
<rect x="435" y="277" width="1" height="4" fill="#000"/>
<rect x="436" y="277" width="5" height="13" fill="#000"/>
<rect x="438" y="275" width="1" height="2" fill="#000"/>
<rect x="438" y="290" width="1" height="2" fill="#000"/>
<rect x="439" y="278" width="5" height="7" fill="#000"/>
<rect x="440" y="279" width="3" height="5" fill="#fff"/>
<rect x="441" y="268" width="1" height="10" fill="#000"/>
<rect x="441" y="285" width="1" height="1" fill="#000"/>
<rect x="442" y="273" width="5" height="10" fill="#000"/>
<rect x="443" y="274" width="3" height="8" fill="#fff"/>
<rect x="444" y="263" width="1" height="10" fill="#000"/>
<rect x="444" y="283" width="1" height="1" fill="#000"/>
<rect x="445" y="271" width="5" height="6" fill="#000"/>
<rect x="447" y="267" width="1" height="4" fill="#000"/>
<rect x="447" y="277" width="1" height="1" fill="#000"/>
<rect x="448" y="269" width="5" height="7" fill="#000"/>
<rect x="449" y="270" width="3" height="5" fill="#fff"/>
<rect x="450" y="267" width="1" height="2" fill="#000"/>
<rect x="450" y="276" width="1" height="9" fill="#000"/>
<rect x="451" y="252" width="5" height="18" fill="#000"/>
<rect x="452" y="253" width="3" height="16" fill="#fff"/>
<rect x="453" y="247" width="1" height="5" fill="#000"/>
<rect x="453" y="270" width="1" height="1" fill="#000"/>
<rect x="454" y="244" width="5" height="7" fill="#000"/>
<rect x="456" y="243" width="1" height="1" fill="#000"/>
<rect x="456" y="251" width="1" height="2" fill="#000"/>
<rect x="457" y="246" width="5" height="5" fill="#000"/>
<rect x="459" y="244" width="1" height="2" fill="#000"/>
<rect x="459" y="251" width="1" height="2" fill="#000"/>
<rect x="460" y="228" width="5" height="18" fill="#000"/>
<rect x="461" y="229" width="3" height="16" fill="#fff"/>
<rect x="462" y="226" width="1" height="2" fill="#000"/>
<rect x="462" y="246" width="1" height="1" fill="#000"/>
<rect x="463" y="218" width="5" height="18" fill="#000"/>
<rect x="464" y="219" width="3" height="16" fill="#fff"/>
<rect x="465" y="217" width="1" height="1" fill="#000"/>
<rect x="465" y="236" width="1" height="1" fill="#000"/>
<rect x="466" y="211" width="5" height="7" fill="#000"/>
<rect x="467" y="212" width="3" height="5" fill="#fff"/>
<rect x="468" y="210" width="1" height="1" fill="#000"/>
<rect x="468" y="218" width="1" height="1" fill="#000"/>
<rect x="469" y="219" width="5" height="3" fill="#000"/>
<rect x="471" y="213" width="1" height="6" fill="#000"/>
<rect x="471" y="222" width="1" height="3" fill="#000"/>
<rect x="473" y="213" width="5" height="11" fill="#000"/>
<rect x="474" y="214" width="3" height="9" fill="#fff"/>
<rect x="475" y="212" width="1" height="1" fill="#000"/>
<rect x="475" y="224" width="1" height="3" fill="#000"/>
<rect x="476" y="205" width="5" height="18" fill="#000"/>
<rect x="478" y="200" width="1" height="5" fill="#000"/>
<rect x="478" y="223" width="1" height="1" fill="#000"/>
<rect x="479" y="202" width="5" height="18" fill="#000"/>
<rect x="481" y="199" width="1" height="3" fill="#000"/>
<rect x="481" y="220" width="1" height="1" fill="#000"/>
<rect x="482" y="201" width="5" height="10" fill="#000"/>
<rect x="483" y="202" width="3" height="8" fill="#fff"/>
<rect x="484" y="191" width="1" height="10" fill="#000"/>
<rect x="484" y="211" width="1" height="1" fill="#000"/>
<rect x="485" y="192" width="5" height="10" fill="#000"/>
<rect x="486" y="193" width="3" height="8" fill="#fff"/>
<rect x="487" y="191" width="1" height="1" fill="#000"/>
<rect x="487" y="202" width="1" height="10" fill="#000"/>
<rect x="488" y="192" width="5" height="9" fill="#000"/>
<rect x="490" y="190" width="1" height="2" fill="#000"/>
<rect x="490" y="201" width="1" height="1" fill="#000"/>
<rect x="491" y="193" width="5" height="17" fill="#000"/>
<rect x="493" y="192" width="1" height="1" fill="#000"/>
<rect x="493" y="210" width="1" height="2" fill="#000"/>
<rect x="494" y="196" width="5" height="9" fill="#000"/>
<rect x="495" y="197" width="3" height="7" fill="#fff"/>
<rect x="496" y="194" width="1" height="2" fill="#000"/>
<rect x="496" y="205" width="1" height="1" fill="#000"/>
<rect x="497" y="191" width="5" height="12" fill="#000"/>
<rect x="498" y="192" width="3" height="10" fill="#fff"/>
<rect x="499" y="190" width="1" height="1" fill="#000"/>
<rect x="499" y="203" width="1" height="3" fill="#000"/>
<rect x="500" y="173" width="5" height="14" fill="#000"/>
<rect x="501" y="174" width="3" height="12" fill="#fff"/>
<rect x="502" y="172" width="1" height="1" fill="#000"/>
<rect x="502" y="187" width="1" height="1" fill="#000"/>
<rect x="503" y="174" width="5" height="9" fill="#000"/>
<rect x="505" y="165" width="1" height="9" fill="#000"/>
<rect x="505" y="183" width="1" height="8" fill="#000"/>
<rect x="506" y="175" width="5" height="6" fill="#000"/>
<rect x="508" y="173" width="1" height="2" fill="#000"/>
<rect x="508" y="181" width="1" height="3" fill="#000"/>
<rect x="509" y="155" width="5" height="18" fill="#000"/>
<rect x="510" y="156" width="3" height="16" fill="#fff"/>
<rect x="511" y="153" width="1" height="2" fill="#000"/>
<rect x="511" y="173" width="1" height="1" fill="#000"/>
<rect x="512" y="156" width="5" height="5" fill="#000"/>
<rect x="514" y="150" width="1" height="6" fill="#000"/>
<rect x="514" y="161" width="1" height="7" fill="#000"/>
<rect x="515" y="156" width="5" height="5" fill="#000"/>
<rect x="517" y="153" width="1" height="3" fill="#000"/>
<rect x="517" y="161" width="1" height="3" fill="#000"/>
<rect x="518" y="142" width="5" height="11" fill="#000"/>
<rect x="519" y="143" width="3" height="9" fill="#fff"/>
<rect x="520" y="141" width="1" height="1" fill="#000"/>
<rect x="520" y="153" width="1" height="6" fill="#000"/>
<rect x="521" y="137" width="5" height="4" fill="#000"/>
<rect x="522" y="138" width="3" height="2" fill="#fff"/>
<rect x="523" y="135" width="1" height="2" fill="#000"/>
<rect x="523" y="141" width="1" height="7" fill="#000"/>
<rect x="524" y="140" width="5" height="1" fill="#000"/>
<rect x="526" y="139" width="1" height="1" fill="#000"/>
<rect x="526" y="141" width="1" height="8" fill="#000"/>
<rect x="528" y="143" width="5" height="16" fill="#000"/>
<rect x="530" y="142" width="1" height="1" fill="#000"/>
<rect x="530" y="159" width="1" height="1" fill="#000"/>
<rect x="531" y="140" width="5" height="21" fill="#000"/>
<rect x="533" y="138" width="1" height="2" fill="#000"/>
<rect x="533" y="161" width="1" height="1" fill="#000"/>
<rect x="534" y="150" width="5" height="14" fill="#000"/>
<rect x="536" y="149" width="1" height="1" fill="#000"/>
<rect x="536" y="164" width="1" height="2" fill="#000"/>
<rect x="537" y="154" width="5" height="12" fill="#000"/>
<rect x="539" y="152" width="1" height="2" fill="#000"/>
<rect x="539" y="166" width="1" height="7" fill="#000"/>
<rect x="540" y="148" width="5" height="20" fill="#000"/>
<rect x="541" y="149" width="3" height="18" fill="#fff"/>
<rect x="542" y="147" width="1" height="1" fill="#000"/>
<rect x="542" y="168" width="1" height="13" fill="#000"/>
<rect x="543" y="142" width="5" height="9" fill="#000"/>
<rect x="544" y="143" width="3" height="7" fill="#fff"/>
<rect x="545" y="137" width="1" height="5" fill="#000"/>
<rect x="545" y="151" width="1" height="2" fill="#000"/>
<rect x="546" y="142" width="5" height="9" fill="#000"/>
<rect x="548" y="135" width="1" height="7" fill="#000"/>
<rect x="548" y="151" width="1" height="12" fill="#000"/>
<rect x="549" y="138" width="5" height="18" fill="#000"/>
<rect x="550" y="139" width="3" height="16" fill="#fff"/>
<rect x="551" y="137" width="1" height="1" fill="#000"/>
<rect x="551" y="156" width="1" height="1" fill="#000"/>
<rect x="552" y="128" width="5" height="9" fill="#000"/>
<rect x="553" y="129" width="3" height="7" fill="#fff"/>
<rect x="554" y="125" width="1" height="3" fill="#000"/>
<rect x="554" y="137" width="1" height="1" fill="#000"/>
<rect x="555" y="128" width="5" height="9" fill="#000"/>
<rect x="556" y="129" width="3" height="7" fill="#fff"/>
<rect x="557" y="121" width="1" height="7" fill="#000"/>
<rect x="557" y="137" width="1" height="1" fill="#000"/>
<rect x="558" y="116" width="5" height="10" fill="#000"/>
<rect x="559" y="117" width="3" height="8" fill="#fff"/>
<rect x="560" y="113" width="1" height="3" fill="#000"/>
<rect x="560" y="126" width="1" height="14" fill="#000"/>
<rect x="561" y="118" width="5" height="8" fill="#000"/>
<rect x="563" y="114" width="1" height="4" fill="#000"/>
<rect x="563" y="126" width="1" height="1" fill="#000"/>
<rect x="564" y="118" width="5" height="17" fill="#000"/>
<rect x="566" y="115" width="1" height="3" fill="#000"/>
<rect x="566" y="135" width="1" height="1" fill="#000"/>
<rect x="567" y="125" width="5" height="11" fill="#000"/>
<rect x="569" y="124" width="1" height="1" fill="#000"/>
<rect x="569" y="136" width="1" height="26" fill="#000"/>
<rect x="570" y="151" width="5" height="31" fill="#000"/>
<rect x="572" y="149" width="1" height="2" fill="#000"/>
<rect x="572" y="182" width="1" height="2" fill="#000"/>
<rect x="573" y="168" width="5" height="12" fill="#000"/>
<rect x="574" y="169" width="3" height="10" fill="#fff"/>
<rect x="575" y="160" width="1" height="8" fill="#000"/>
<rect x="575" y="180" width="1" height="1" fill="#000"/>
<rect x="576" y="170" width="5" height="8" fill="#000"/>
<rect x="578" y="157" width="1" height="13" fill="#000"/>
<rect x="578" y="178" width="1" height="1" fill="#000"/>
<rect x="579" y="171" width="5" height="6" fill="#000"/>
<rect x="581" y="157" width="1" height="14" fill="#000"/>
<rect x="581" y="177" width="1" height="1" fill="#000"/>
<rect x="583" y="167" width="5" height="1" fill="#000"/>
<rect x="585" y="157" width="1" height="10" fill="#000"/>
<rect x="585" y="168" width="1" height="11" fill="#000"/>
<rect x="586" y="159" width="5" height="9" fill="#000"/>
<rect x="587" y="160" width="3" height="7" fill="#fff"/>
<rect x="588" y="158" width="1" height="1" fill="#000"/>
<rect x="588" y="168" width="1" height="13" fill="#000"/>
<rect x="589" y="156" width="5" height="13" fill="#000"/>
<rect x="590" y="157" width="3" height="11" fill="#fff"/>
<rect x="591" y="155" width="1" height="1" fill="#000"/>
<rect x="591" y="169" width="1" height="1" fill="#000"/>
<rect x="592" y="145" width="5" height="12" fill="#000"/>
<rect x="593" y="146" width="3" height="10" fill="#fff"/>
<rect x="594" y="143" width="1" height="2" fill="#000"/>
<rect x="594" y="157" width="1" height="7" fill="#000"/>
<rect x="595" y="139" width="5" height="7" fill="#000"/>
<rect x="596" y="140" width="3" height="5" fill="#fff"/>
<rect x="597" y="138" width="1" height="1" fill="#000"/>
<rect x="597" y="146" width="1" height="1" fill="#000"/>
<rect x="598" y="143" width="5" height="19" fill="#000"/>
<rect x="600" y="142" width="1" height="1" fill="#000"/>
<rect x="600" y="162" width="1" height="1" fill="#000"/>
<rect x="601" y="156" width="5" height="28" fill="#000"/>
<rect x="603" y="155" width="1" height="1" fill="#000"/>
<rect x="603" y="184" width="1" height="1" fill="#000"/>
<rect x="604" y="171" width="5" height="23" fill="#000"/>
<rect x="606" y="170" width="1" height="1" fill="#000"/>
<rect x="606" y="194" width="1" height="2" fill="#000"/>
<rect x="607" y="198" width="5" height="11" fill="#000"/>
<rect x="609" y="193" width="1" height="5" fill="#000"/>
<rect x="609" y="209" width="1" height="3" fill="#000"/>
<rect x="610" y="205" width="5" height="6" fill="#000"/>
<rect x="612" y="204" width="1" height="1" fill="#000"/>
<rect x="612" y="211" width="1" height="2" fill="#000"/>
<rect x="613" y="205" width="5" height="6" fill="#000"/>
<rect x="615" y="203" width="1" height="2" fill="#000"/>
<rect x="615" y="211" width="1" height="7" fill="#000"/>
<rect x="616" y="205" width="5" height="6" fill="#000"/>
<rect x="618" y="200" width="1" height="5" fill="#000"/>
<rect x="618" y="211" width="1" height="5" fill="#000"/>
<rect x="619" y="205" width="5" height="13" fill="#000"/>
<rect x="621" y="203" width="1" height="2" fill="#000"/>
<rect x="621" y="218" width="1" height="1" fill="#000"/>
<rect x="622" y="211" width="5" height="6" fill="#000"/>
<rect x="623" y="212" width="3" height="4" fill="#fff"/>
<rect x="624" y="210" width="1" height="1" fill="#000"/>
<rect x="624" y="217" width="1" height="1" fill="#000"/>
<rect x="625" y="198" width="5" height="14" fill="#000"/>
<rect x="626" y="199" width="3" height="12" fill="#fff"/>
<rect x="627" y="197" width="1" height="1" fill="#000"/>
<rect x="627" y="212" width="1" height="1" fill="#000"/>
<rect x="628" y="193" width="5" height="6" fill="#000"/>
<rect x="629" y="194" width="3" height="4" fill="#fff"/>
<rect x="630" y="192" width="1" height="1" fill="#000"/>
<rect x="630" y="199" width="1" height="1" fill="#000"/>
<rect x="631" y="184" width="5" height="10" fill="#000"/>
<rect x="633" y="179" width="1" height="5" fill="#000"/>
<rect x="633" y="194" width="1" height="4" fill="#000"/>
<rect x="634" y="184" width="5" height="8" fill="#000"/>
<rect x="636" y="182" width="1" height="2" fill="#000"/>
<rect x="636" y="192" width="1" height="5" fill="#000"/>
<rect x="638" y="189" width="5" height="3" fill="#000"/>
<rect x="640" y="183" width="1" height="6" fill="#000"/>
<rect x="640" y="192" width="1" height="1" fill="#000"/>
<rect x="641" y="192" width="5" height="14" fill="#000"/>
<rect x="643" y="191" width="1" height="1" fill="#000"/>
<rect x="643" y="206" width="1" height="1" fill="#000"/>
<rect x="644" y="205" width="5" height="7" fill="#000"/>
<rect x="645" y="206" width="3" height="5" fill="#fff"/>
<rect x="646" y="204" width="1" height="1" fill="#000"/>
<rect x="646" y="212" width="1" height="2" fill="#000"/>
<rect x="647" y="199" width="5" height="5" fill="#000"/>
<rect x="648" y="200" width="3" height="3" fill="#fff"/>
<rect x="649" y="192" width="1" height="7" fill="#000"/>
<rect x="649" y="204" width="1" height="1" fill="#000"/>
<rect x="650" y="196" width="5" height="8" fill="#000"/>
<rect x="651" y="197" width="3" height="6" fill="#fff"/>
<rect x="652" y="195" width="1" height="1" fill="#000"/>
<rect x="652" y="204" width="1" height="1" fill="#000"/>
<rect x="653" y="196" width="5" height="7" fill="#000"/>
<rect x="655" y="194" width="1" height="2" fill="#000"/>
<rect x="655" y="203" width="1" height="3" fill="#000"/>
<rect x="656" y="197" width="5" height="5" fill="#000"/>
<rect x="658" y="196" width="1" height="1" fill="#000"/>
<rect x="658" y="202" width="1" height="4" fill="#000"/>
<rect x="659" y="199" width="5" height="6" fill="#000"/>
<rect x="661" y="194" width="1" height="5" fill="#000"/>
<rect x="661" y="205" width="1" height="1" fill="#000"/>
<rect x="662" y="200" width="5" height="8" fill="#000"/>
<rect x="664" y="198" width="1" height="2" fill="#000"/>
<rect x="664" y="208" width="1" height="4" fill="#000"/>
<rect x="665" y="199" width="5" height="9" fill="#000"/>
<rect x="666" y="200" width="3" height="7" fill="#fff"/>
<rect x="667" y="197" width="1" height="2" fill="#000"/>
<rect x="667" y="208" width="1" height="8" fill="#000"/>
<rect x="668" y="200" width="5" height="12" fill="#000"/>
<rect x="670" y="196" width="1" height="4" fill="#000"/>
<rect x="670" y="212" width="1" height="14" fill="#000"/>
<rect x="671" y="203" width="5" height="11" fill="#000"/>
<rect x="673" y="202" width="1" height="1" fill="#000"/>
<rect x="673" y="214" width="1" height="4" fill="#000"/>
<rect x="674" y="206" width="5" height="8" fill="#000"/>
<rect x="676" y="205" width="1" height="1" fill="#000"/>
<rect x="676" y="214" width="1" height="12" fill="#000"/>
<rect x="677" y="197" width="5" height="19" fill="#000"/>
<rect x="678" y="198" width="3" height="17" fill="#fff"/>
<rect x="679" y="196" width="1" height="1" fill="#000"/>
<rect x="679" y="216" width="1" height="1" fill="#000"/>
<rect x="680" y="197" width="5" height="15" fill="#000"/>
<rect x="682" y="185" width="1" height="12" fill="#000"/>
<rect x="682" y="212" width="1" height="1" fill="#000"/>
<rect x="683" y="205" width="5" height="8" fill="#000"/>
<rect x="685" y="204" width="1" height="1" fill="#000"/>
<rect x="685" y="213" width="1" height="1" fill="#000"/>
<rect x="686" y="211" width="5" height="7" fill="#000"/>
<rect x="688" y="210" width="1" height="1" fill="#000"/>
<rect x="688" y="218" width="1" height="7" fill="#000"/>
<rect x="689" y="205" width="5" height="11" fill="#000"/>
<rect x="690" y="206" width="3" height="9" fill="#fff"/>
<rect x="691" y="199" width="1" height="6" fill="#000"/>
<rect x="691" y="216" width="1" height="8" fill="#000"/>
<rect x="693" y="201" width="5" height="3" fill="#000"/>
<rect x="694" y="202" width="3" height="1" fill="#fff"/>
<rect x="695" y="193" width="1" height="8" fill="#000"/>
<rect x="695" y="204" width="1" height="1" fill="#000"/>
<rect x="696" y="195" width="5" height="13" fill="#000"/>
<rect x="697" y="196" width="3" height="11" fill="#fff"/>
<rect x="698" y="193" width="1" height="2" fill="#000"/>
<rect x="698" y="208" width="1" height="2" fill="#000"/>
<rect x="699" y="191" width="5" height="8" fill="#000"/>
<rect x="700" y="192" width="3" height="6" fill="#fff"/>
<rect x="701" y="190" width="1" height="1" fill="#000"/>
<rect x="701" y="199" width="1" height="1" fill="#000"/>
<rect x="702" y="186" width="5" height="5" fill="#000"/>
<rect x="703" y="187" width="3" height="3" fill="#fff"/>
<rect x="704" y="183" width="1" height="3" fill="#000"/>
<rect x="704" y="191" width="1" height="14" fill="#000"/>
<rect x="705" y="186" width="5" height="5" fill="#000"/>
<rect x="707" y="185" width="1" height="1" fill="#000"/>
<rect x="707" y="191" width="1" height="1" fill="#000"/>
<rect x="708" y="195" width="5" height="10" fill="#000"/>
<rect x="710" y="194" width="1" height="1" fill="#000"/>
<rect x="710" y="205" width="1" height="6" fill="#000"/>
<rect x="711" y="189" width="5" height="10" fill="#000"/>
<rect x="712" y="190" width="3" height="8" fill="#fff"/>
<rect x="713" y="185" width="1" height="4" fill="#000"/>
<rect x="713" y="199" width="1" height="1" fill="#000"/>
<rect x="714" y="182" width="5" height="9" fill="#000"/>
<rect x="715" y="183" width="3" height="7" fill="#fff"/>
<rect x="716" y="181" width="1" height="1" fill="#000"/>
<rect x="716" y="191" width="1" height="1" fill="#000"/>
<rect x="717" y="190" width="5" height="5" fill="#000"/>
<rect x="718" y="191" width="3" height="3" fill="#fff"/>
<rect x="719" y="177" width="1" height="13" fill="#000"/>
<rect x="719" y="195" width="1" height="2" fill="#000"/>
<rect x="720" y="181" width="5" height="6" fill="#000"/>
<rect x="722" y="177" width="1" height="4" fill="#000"/>
<rect x="722" y="187" width="1" height="1" fill="#000"/>
<rect x="723" y="185" width="5" height="26" fill="#000"/>
<rect x="724" y="186" width="3" height="24" fill="#fff"/>
<rect x="725" y="184" width="1" height="1" fill="#000"/>
<rect x="725" y="211" width="1" height="1" fill="#000"/>
<rect x="726" y="177" width="5" height="34" fill="#000"/>
<rect x="727" y="178" width="3" height="32" fill="#fff"/>
<rect x="728" y="176" width="1" height="1" fill="#000"/>
<rect x="728" y="211" width="1" height="1" fill="#000"/>
<rect x="729" y="176" width="5" height="14" fill="#000"/>
<rect x="731" y="157" width="1" height="19" fill="#000"/>
<rect x="731" y="190" width="1" height="5" fill="#000"/>
<rect x="732" y="176" width="5" height="13" fill="#000"/>
<rect x="734" y="175" width="1" height="1" fill="#000"/>
<rect x="734" y="189" width="1" height="1" fill="#000"/>
<rect x="735" y="176" width="5" height="12" fill="#000"/>
<rect x="736" y="177" width="3" height="10" fill="#fff"/>
<rect x="737" y="175" width="1" height="1" fill="#000"/>
<rect x="737" y="188" width="1" height="1" fill="#000"/>
<rect x="738" y="167" width="5" height="21" fill="#000"/>
<rect x="739" y="168" width="3" height="19" fill="#fff"/>
<rect x="740" y="165" width="1" height="2" fill="#000"/>
<rect x="740" y="188" width="1" height="1" fill="#000"/>
<rect x="741" y="171" width="5" height="3" fill="#000"/>
<rect x="743" y="170" width="1" height="1" fill="#000"/>
<rect x="743" y="174" width="1" height="1" fill="#000"/>
<rect x="744" y="160" width="5" height="14" fill="#000"/>
<rect x="745" y="161" width="3" height="12" fill="#fff"/>
<rect x="746" y="154" width="1" height="6" fill="#000"/>
<rect x="746" y="174" width="1" height="1" fill="#000"/>
<rect x="748" y="146" width="5" height="13" fill="#000"/>
<rect x="749" y="147" width="3" height="11" fill="#fff"/>
<rect x="750" y="139" width="1" height="7" fill="#000"/>
<rect x="750" y="159" width="1" height="12" fill="#000"/>
<rect x="751" y="121" width="5" height="26" fill="#000"/>
<rect x="752" y="122" width="3" height="24" fill="#fff"/>
<rect x="753" y="120" width="1" height="1" fill="#000"/>
<rect x="753" y="147" width="1" height="1" fill="#000"/>
<rect x="754" y="105" width="5" height="18" fill="#000"/>
<rect x="755" y="106" width="3" height="16" fill="#fff"/>
<rect x="756" y="104" width="1" height="1" fill="#000"/>
<rect x="756" y="123" width="1" height="1" fill="#000"/>
<rect x="757" y="101" width="5" height="16" fill="#000"/>
<rect x="759" y="98" width="1" height="3" fill="#000"/>
<rect x="759" y="117" width="1" height="1" fill="#000"/>
<rect x="760" y="110" width="5" height="24" fill="#000"/>
<rect x="762" y="109" width="1" height="1" fill="#000"/>
<rect x="762" y="134" width="1" height="1" fill="#000"/>
<rect x="763" y="127" width="5" height="8" fill="#000"/>
<rect x="765" y="126" width="1" height="1" fill="#000"/>
<rect x="765" y="135" width="1" height="2" fill="#000"/>
<rect x="766" y="119" width="5" height="1" fill="#000"/>
<rect x="768" y="112" width="1" height="7" fill="#000"/>
<rect x="768" y="120" width="1" height="16" fill="#000"/>
<rect x="769" y="116" width="5" height="8" fill="#000"/>
<rect x="770" y="117" width="3" height="6" fill="#fff"/>
<rect x="771" y="107" width="1" height="9" fill="#000"/>
<rect x="771" y="124" width="1" height="1" fill="#000"/>
<rect x="772" y="116" width="5" height="8" fill="#000"/>
<rect x="774" y="115" width="1" height="1" fill="#000"/>
<rect x="774" y="124" width="1" height="1" fill="#000"/>
<rect x="775" y="117" width="5" height="4" fill="#000"/>
<rect x="777" y="114" width="1" height="3" fill="#000"/>
<rect x="777" y="121" width="1" height="10" fill="#000"/>
<rect x="778" y="113" width="5" height="5" fill="#000"/>
<rect x="780" y="100" width="1" height="13" fill="#000"/>
<rect x="780" y="118" width="1" height="6" fill="#000"/>
<rect x="781" y="107" width="5" height="9" fill="#000"/>
<rect x="783" y="92" width="1" height="15" fill="#000"/>
<rect x="783" y="116" width="1" height="7" fill="#000"/>
<rect x="784" y="106" width="5" height="8" fill="#000"/>
<rect x="786" y="101" width="1" height="5" fill="#000"/>
<rect x="786" y="114" width="1" height="9" fill="#000"/>
<rect x="787" y="106" width="5" height="12" fill="#000"/>
<rect x="788" y="107" width="3" height="10" fill="#fff"/>
<rect x="789" y="102" width="1" height="4" fill="#000"/>
<rect x="789" y="118" width="1" height="26" fill="#000"/>
<rect x="790" y="102" width="5" height="14" fill="#000"/>
<rect x="791" y="103" width="3" height="12" fill="#fff"/>
<rect x="792" y="101" width="1" height="1" fill="#000"/>
<rect x="792" y="116" width="1" height="1" fill="#000"/>
<rect x="793" y="105" width="5" height="11" fill="#000"/>
<rect x="795" y="104" width="1" height="1" fill="#000"/>
<rect x="795" y="116" width="1" height="8" fill="#000"/>
<rect x="796" y="106" width="5" height="22" fill="#000"/>
<rect x="797" y="107" width="3" height="20" fill="#fff"/>
<rect x="798" y="105" width="1" height="1" fill="#000"/>
<rect x="798" y="128" width="1" height="6" fill="#000"/>
<rect x="799" y="104" width="5" height="6" fill="#000"/>
<rect x="800" y="105" width="3" height="4" fill="#fff"/>
<rect x="801" y="103" width="1" height="1" fill="#000"/>
<rect x="801" y="110" width="1" height="1" fill="#000"/>
<rect x="803" y="112" width="5" height="13" fill="#000"/>
<rect x="805" y="102" width="1" height="10" fill="#000"/>
<rect x="805" y="125" width="1" height="1" fill="#000"/>
<rect x="806" y="113" width="5" height="14" fill="#000"/>
<rect x="808" y="112" width="1" height="1" fill="#000"/>
<rect x="808" y="127" width="1" height="8" fill="#000"/>
<rect x="809" y="112" width="5" height="5" fill="#000"/>
<rect x="810" y="113" width="3" height="3" fill="#fff"/>
<rect x="811" y="106" width="1" height="6" fill="#000"/>
<rect x="811" y="117" width="1" height="17" fill="#000"/>
<rect x="812" y="94" width="5" height="12" fill="#000"/>
<rect x="813" y="95" width="3" height="10" fill="#fff"/>
<rect x="814" y="93" width="1" height="1" fill="#000"/>
<rect x="814" y="106" width="1" height="1" fill="#000"/>
<rect x="815" y="86" width="5" height="19" fill="#000"/>
<rect x="817" y="78" width="1" height="8" fill="#000"/>
<rect x="817" y="105" width="1" height="1" fill="#000"/>
<rect x="818" y="92" width="5" height="13" fill="#000"/>
<rect x="820" y="90" width="1" height="2" fill="#000"/>
<rect x="820" y="105" width="1" height="1" fill="#000"/>
<rect x="821" y="110" width="5" height="4" fill="#000"/>
<rect x="822" y="111" width="3" height="2" fill="#fff"/>
<rect x="823" y="105" width="1" height="5" fill="#000"/>
<rect x="823" y="114" width="1" height="7" fill="#000"/>
<rect x="824" y="108" width="5" height="4" fill="#000"/>
<rect x="825" y="109" width="3" height="2" fill="#fff"/>
<rect x="826" y="104" width="1" height="4" fill="#000"/>
<rect x="826" y="112" width="1" height="1" fill="#000"/>
<rect x="827" y="107" width="5" height="37" fill="#000"/>
<rect x="829" y="106" width="1" height="1" fill="#000"/>
<rect x="829" y="144" width="1" height="1" fill="#000"/>
</g>
<polyline points="62.5,260.5 65.5,266.5 68.5,255.5 71.5,260.5 74.5,255.0 77.5,250.5 80.5,250.5 83.5,248.5 86.5,246.0 90.5,249.5 93.5,261.5 96.5,282.5 99.5,294.5 102.5,298.5 105.5,290.5 108.5,299.5 111.5,301.5 114.5,294.5 117.5,289.5 120.5,289.0 123.5,286.5 126.5,299.5 129.5,284.5 132.5,283.5 135.5,282.2 138.5,285.5 141.5,288.9 145.5,290.2 148.5,291.5 151.5,285.5 154.5,284.5 157.5,292.2 160.5,293.5 163.5,290.5 166.5,291.2 169.5,297.1 172.5,305.0 175.5,313.0 178.5,319.5 181.5,309.5 184.5,304.5 187.5,299.2 190.5,297.5 193.5,307.5 196.5,311.2 200.5,305.8 203.5,296.5 206.5,305.8 209.5,301.2 212.5,299.2 215.5,306.5 218.5,300.0 221.5,317.5 224.5,311.5 227.5,306.5 230.5,305.0 233.5,300.5 236.5,309.5 239.5,316.5 242.5,321.5 245.5,318.5 248.5,316.5 251.5,313.0 255.5,303.5 258.5,296.5 261.5,302.2 264.5,312.2 267.5,309.2 270.5,313.0 273.5,314.5 276.5,313.5 279.5,312.2 282.5,302.2 285.5,298.8 288.5,297.2 291.5,298.5 294.5,293.8 297.5,289.5 300.5,277.5 303.5,272.9 306.5,276.2 310.5,277.5 313.5,277.1 316.5,271.2 319.5,269.5 322.5,277.5 325.5,273.8 328.5,272.9 331.5,276.5 334.5,299.5 337.5,283.3 340.5,277.1 343.5,290.5 346.5,280.0 349.5,284.2 352.5,287.1 355.5,279.2 358.5,274.5 361.5,271.5 365.5,268.5 368.5,265.5 371.5,266.3 374.5,278.8 377.5,282.5 380.5,279.2 383.5,275.5 386.5,271.3 389.5,265.9 392.5,271.8 395.5,273.0 398.5,270.5 401.5,277.5 404.5,274.7 407.5,275.1 410.5,283.5 413.5,281.8 416.5,281.8 420.5,285.1 423.5,279.7 426.5,275.1 429.5,275.9 432.5,275.5 435.5,278.1 438.5,289.3 441.5,277.5 444.5,272.5 447.5,270.5 450.5,267.2 453.5,256.5 456.5,248.5 459.5,240.9 462.5,231.3 465.5,229.2 468.5,233.8 471.5,237.2 475.5,230.5 478.5,225.9 481.5,216.5 484.5,203.5 487.5,193.0 490.5,196.3 493.5,207.2 496.5,198.8 499.5,190.1 502.5,185.5 505.5,192.5 508.5,187.2 511.5,171.5 514.5,167.5 517.5,163.8 520.5,151.3 523.5,147.2 526.5,153.0 530.5,161.3 533.5,165.5 536.5,155.5 539.5,161.3 542.5,150.5 545.5,147.2 548.5,152.5 551.5,145.5 554.5,139.5 557.5,134.0 560.5,129.0 563.5,125.5 566.5,142.5 569.5,159.5 572.5,169.3 575.5,158.1 578.5,158.5 581.5,154.3 585.5,151.8 588.5,146.5 591.5,144.0 594.5,136.3 597.5,133.5 600.5,152.5 603.5,168.5 606.5,183.5 609.5,192.1 612.5,190.5 615.5,187.5 618.5,185.5 621.5,189.5 624.5,192.5 627.5,180.0 630.5,178.3 633.5,181.2 636.5,179.5 640.5,176.2 643.5,187.9 646.5,176.5 649.5,176.2 652.5,178.3 655.5,182.5 658.5,178.3 661.5,181.5 664.5,183.3 667.5,178.5 670.5,185.0 673.5,188.5 676.5,186.2 679.5,176.5 682.5,184.0 685.5,181.9 688.5,185.5 691.5,171.0 695.5,169.9 698.5,166.5 701.5,165.5 704.5,160.5 707.5,163.9 710.5,173.2 713.5,176.5 716.5,178.5 719.5,189.5 722.5,181.9 725.5,180.0 728.5,167.0 731.5,168.7 734.5,173.2 737.5,156.9 740.5,152.5 743.5,154.1 746.5,150.9 750.5,143.5 753.5,135.5 756.5,123.2 759.5,128.5 762.5,143.9 765.5,131.9 768.5,122.5 771.5,123.5 774.5,125.5 777.5,118.0 780.5,113.8 783.5,108.8 786.5,105.0 789.5,101.5 792.5,98.5 795.5,106.0 798.5,100.1 801.5,95.5 805.5,106.5 808.5,112.0 811.5,96.5 814.5,84.1 817.5,89.5 820.5,92.9 823.5,93.9 826.5,105.5 829.5,118.5" fill="none" stroke="#ff0000" stroke-width="2" stroke-linejoin="miter" shape-rendering="crispEdges"/>
<g shape-rendering="crispEdges" fill="#000">
<rect x="60" y="70" width="1" height="274"/>
<rect x="60" y="343" width="771" height="1"/>
<rect x="830" y="70" width="1" height="274"/>
<rect x="60" y="343" width="6" height="1"/>
<rect x="60" y="332" width="4" height="1"/>
<rect x="60" y="321" width="4" height="1"/>
<rect x="60" y="310" width="4" height="1"/>
<rect x="60" y="299" width="4" height="1"/>
<rect x="60" y="288" width="6" height="1"/>
<rect x="60" y="277" width="4" height="1"/>
<rect x="60" y="267" width="4" height="1"/>
<rect x="60" y="256" width="4" height="1"/>
<rect x="60" y="245" width="4" height="1"/>
<rect x="60" y="234" width="6" height="1"/>
<rect x="60" y="223" width="4" height="1"/>
<rect x="60" y="212" width="4" height="1"/>
<rect x="60" y="201" width="4" height="1"/>
<rect x="60" y="190" width="4" height="1"/>
<rect x="60" y="179" width="6" height="1"/>
<rect x="60" y="168" width="4" height="1"/>
<rect x="60" y="157" width="4" height="1"/>
<rect x="60" y="146" width="4" height="1"/>
<rect x="60" y="136" width="4" height="1"/>
<rect x="60" y="125" width="6" height="1"/>
<rect x="60" y="114" width="4" height="1"/>
<rect x="60" y="103" width="4" height="1"/>
<rect x="60" y="92" width="4" height="1"/>
<rect x="60" y="81" width="4" height="1"/>
<rect x="60" y="70" width="6" height="1"/>
<rect x="825" y="343" width="6" height="1"/>
<rect x="827" y="338" width="4" height="1"/>
<rect x="827" y="332" width="4" height="1"/>
<rect x="827" y="327" width="4" height="1"/>
<rect x="827" y="321" width="4" height="1"/>
<rect x="825" y="316" width="6" height="1"/>
<rect x="827" y="310" width="4" height="1"/>
<rect x="827" y="305" width="4" height="1"/>
<rect x="827" y="299" width="4" height="1"/>
<rect x="827" y="294" width="4" height="1"/>
<rect x="825" y="288" width="6" height="1"/>
<rect x="827" y="283" width="4" height="1"/>
<rect x="827" y="277" width="4" height="1"/>
<rect x="827" y="272" width="4" height="1"/>
<rect x="827" y="267" width="4" height="1"/>
<rect x="825" y="261" width="6" height="1"/>
<rect x="827" y="256" width="4" height="1"/>
<rect x="827" y="250" width="4" height="1"/>
<rect x="827" y="245" width="4" height="1"/>
<rect x="827" y="239" width="4" height="1"/>
<rect x="825" y="234" width="6" height="1"/>
<rect x="827" y="228" width="4" height="1"/>
<rect x="827" y="223" width="4" height="1"/>
<rect x="827" y="217" width="4" height="1"/>
<rect x="827" y="212" width="4" height="1"/>
<rect x="825" y="206" width="6" height="1"/>
<rect x="827" y="201" width="4" height="1"/>
<rect x="827" y="196" width="4" height="1"/>
<rect x="827" y="190" width="4" height="1"/>
<rect x="827" y="185" width="4" height="1"/>
<rect x="825" y="179" width="6" height="1"/>
<rect x="827" y="174" width="4" height="1"/>
<rect x="827" y="168" width="4" height="1"/>
<rect x="827" y="163" width="4" height="1"/>
<rect x="827" y="157" width="4" height="1"/>
<rect x="825" y="152" width="6" height="1"/>
<rect x="827" y="146" width="4" height="1"/>
<rect x="827" y="141" width="4" height="1"/>
<rect x="827" y="136" width="4" height="1"/>
<rect x="827" y="130" width="4" height="1"/>
<rect x="825" y="125" width="6" height="1"/>
<rect x="827" y="119" width="4" height="1"/>
<rect x="827" y="114" width="4" height="1"/>
<rect x="827" y="108" width="4" height="1"/>
<rect x="827" y="103" width="4" height="1"/>
<rect x="825" y="97" width="6" height="1"/>
<rect x="827" y="92" width="4" height="1"/>
<rect x="827" y="86" width="4" height="1"/>
<rect x="827" y="81" width="4" height="1"/>
<rect x="827" y="75" width="4" height="1"/>
<rect x="825" y="70" width="6" height="1"/>
<rect x="62" y="338" width="1" height="5"/>
<rect x="92" y="338" width="1" height="5"/>
<rect x="123" y="338" width="1" height="5"/>
<rect x="153" y="338" width="1" height="5"/>
<rect x="184" y="338" width="1" height="5"/>
<rect x="214" y="338" width="1" height="5"/>
<rect x="245" y="338" width="1" height="5"/>
<rect x="275" y="338" width="1" height="5"/>
<rect x="306" y="338" width="1" height="5"/>
<rect x="337" y="338" width="1" height="5"/>
<rect x="367" y="338" width="1" height="5"/>
<rect x="398" y="338" width="1" height="5"/>
<rect x="428" y="338" width="1" height="5"/>
<rect x="459" y="338" width="1" height="5"/>
<rect x="489" y="338" width="1" height="5"/>
<rect x="520" y="338" width="1" height="5"/>
<rect x="550" y="338" width="1" height="5"/>
<rect x="581" y="338" width="1" height="5"/>
<rect x="612" y="338" width="1" height="5"/>
<rect x="642" y="338" width="1" height="5"/>
<rect x="673" y="338" width="1" height="5"/>
<rect x="703" y="338" width="1" height="5"/>
<rect x="734" y="338" width="1" height="5"/>
<rect x="764" y="338" width="1" height="5"/>
<rect x="795" y="338" width="1" height="5"/>
<rect x="825" y="338" width="1" height="5"/>
<rect x="60" y="360" width="1" height="111"/>
<rect x="60" y="470" width="771" height="1"/>
<rect x="60" y="470" width="6" height="1"/>
<rect x="60" y="461" width="4" height="1"/>
<rect x="60" y="452" width="4" height="1"/>
<rect x="60" y="443" width="4" height="1"/>
<rect x="60" y="434" width="4" height="1"/>
<rect x="60" y="425" width="6" height="1"/>
<rect x="60" y="416" width="4" height="1"/>
<rect x="60" y="407" width="4" height="1"/>
<rect x="60" y="398" width="4" height="1"/>
<rect x="60" y="388" width="4" height="1"/>
<rect x="60" y="379" width="6" height="1"/>
<rect x="60" y="370" width="4" height="1"/>
<rect x="60" y="361" width="4" height="1"/>
<rect x="91" y="465" width="1" height="5"/>
<rect x="121" y="465" width="1" height="5"/>
<rect x="152" y="465" width="1" height="5"/>
<rect x="182" y="465" width="1" height="5"/>
<rect x="213" y="465" width="1" height="5"/>
<rect x="243" y="465" width="1" height="5"/>
<rect x="274" y="465" width="1" height="5"/>
<rect x="304" y="465" width="1" height="5"/>
<rect x="335" y="465" width="1" height="5"/>
<rect x="366" y="465" width="1" height="5"/>
<rect x="396" y="465" width="1" height="5"/>
<rect x="427" y="465" width="1" height="5"/>
<rect x="457" y="465" width="1" height="5"/>
<rect x="488" y="465" width="1" height="5"/>
<rect x="518" y="465" width="1" height="5"/>
<rect x="549" y="465" width="1" height="5"/>
<rect x="579" y="465" width="1" height="5"/>
<rect x="610" y="465" width="1" height="5"/>
<rect x="641" y="465" width="1" height="5"/>
<rect x="671" y="465" width="1" height="5"/>
<rect x="702" y="465" width="1" height="5"/>
<rect x="732" y="465" width="1" height="5"/>
<rect x="763" y="465" width="1" height="5"/>
<rect x="793" y="465" width="1" height="5"/>
<rect x="824" y="465" width="1" height="5"/>
</g>
<g class="num" text-anchor="end">
<text x="52" y="74">95</text>
<text x="52" y="129">90</text>
<text x="52" y="183">85</text>
<text x="52" y="238">80</text>
<text x="52" y="292">75</text>
<text x="52" y="347">70</text>
<text x="52" y="383">0M</text>
<text x="52" y="429">0M</text>
<text x="52" y="474">0M</text>
</g>
<g class="num" text-anchor="start">
<text x="838" y="347">10000</text>
<text x="838" y="320">10500</text>
<text x="838" y="292">11000</text>
<text x="838" y="265">11500</text>
<text x="838" y="238">12000</text>
<text x="838" y="210">12500</text>
<text x="838" y="183">13000</text>
<text x="838" y="156">13500</text>
<text x="838" y="129">14000</text>
<text x="838" y="101">14500</text>
<text x="838" y="74">15000</text>
</g>
<text class="jp" x="30" y="51" font-size="12">単位:ドル</text>
<text class="jp" x="810" y="51" font-size="12">単位:円</text>
<g class="jp" font-size="12" text-anchor="end">
<text transform="translate(66.2,474.5) rotate(-90)">2025-3-20</text>
<text transform="translate(96.8,474.5) rotate(-90)">2025-4-3</text>
<text transform="translate(127.3,474.5) rotate(-90)">2025-4-17</text>
<text transform="translate(157.9,474.5) rotate(-90)">2025-5-2</text>
<text transform="translate(188.4,474.5) rotate(-90)">2025-5-16</text>
<text transform="translate(219.0,474.5) rotate(-90)">2025-6-2</text>
<text transform="translate(249.5,474.5) rotate(-90)">2025-6-16</text>
<text transform="translate(280.1,474.5) rotate(-90)">2025-7-1</text>
<text transform="translate(310.6,474.5) rotate(-90)">2025-7-16</text>
<text transform="translate(341.2,474.5) rotate(-90)">2025-7-30</text>
<text transform="translate(371.8,474.5) rotate(-90)">2025-8-13</text>
<text transform="translate(402.3,474.5) rotate(-90)">2025-8-27</text>
<text transform="translate(432.9,474.5) rotate(-90)">2025-9-11</text>
<text transform="translate(463.4,474.5) rotate(-90)">2025-9-25</text>
<text transform="translate(494.0,474.5) rotate(-90)">2025-10-9</text>
<text transform="translate(524.5,474.5) rotate(-90)">2025-10-23</text>
<text transform="translate(555.1,474.5) rotate(-90)">2025-11-6</text>
<text transform="translate(585.6,474.5) rotate(-90)">2025-11-20</text>
<text transform="translate(616.2,474.5) rotate(-90)">2025-12-5</text>
<text transform="translate(646.8,474.5) rotate(-90)">2025-12-19</text>
<text transform="translate(677.3,474.5) rotate(-90)">2026-1-6</text>
<text transform="translate(707.9,474.5) rotate(-90)">2026-1-21</text>
<text transform="translate(738.4,474.5) rotate(-90)">2026-2-4</text>
<text transform="translate(769.0,474.5) rotate(-90)">2026-2-19</text>
<text transform="translate(799.5,474.5) rotate(-90)">2026-3-5</text>
<text transform="translate(830.1,474.5) rotate(-90)">2026-3-19</text>
</g>
<g shape-rendering="crispEdges">
<rect x="304.5" y="22.5" width="292" height="41" fill="#f5f5f5" stroke="#7f7f7f" stroke-width="1"/>
<rect x="312.5" y="28.5" width="10" height="10" fill="#000" stroke="#777" stroke-width="1"/>
<rect x="309" y="52" width="17" height="2" fill="#ff0000"/>
</g>
<g class="jp" font-size="13.33">
<text x="334.7" y="37.5">スパイア (Spire Inc)のドルベースの株価</text>
<text x="334.7" y="56.5">スパイア (Spire Inc)の円ベースの株価</text>
</g>
</svg></body></html>
